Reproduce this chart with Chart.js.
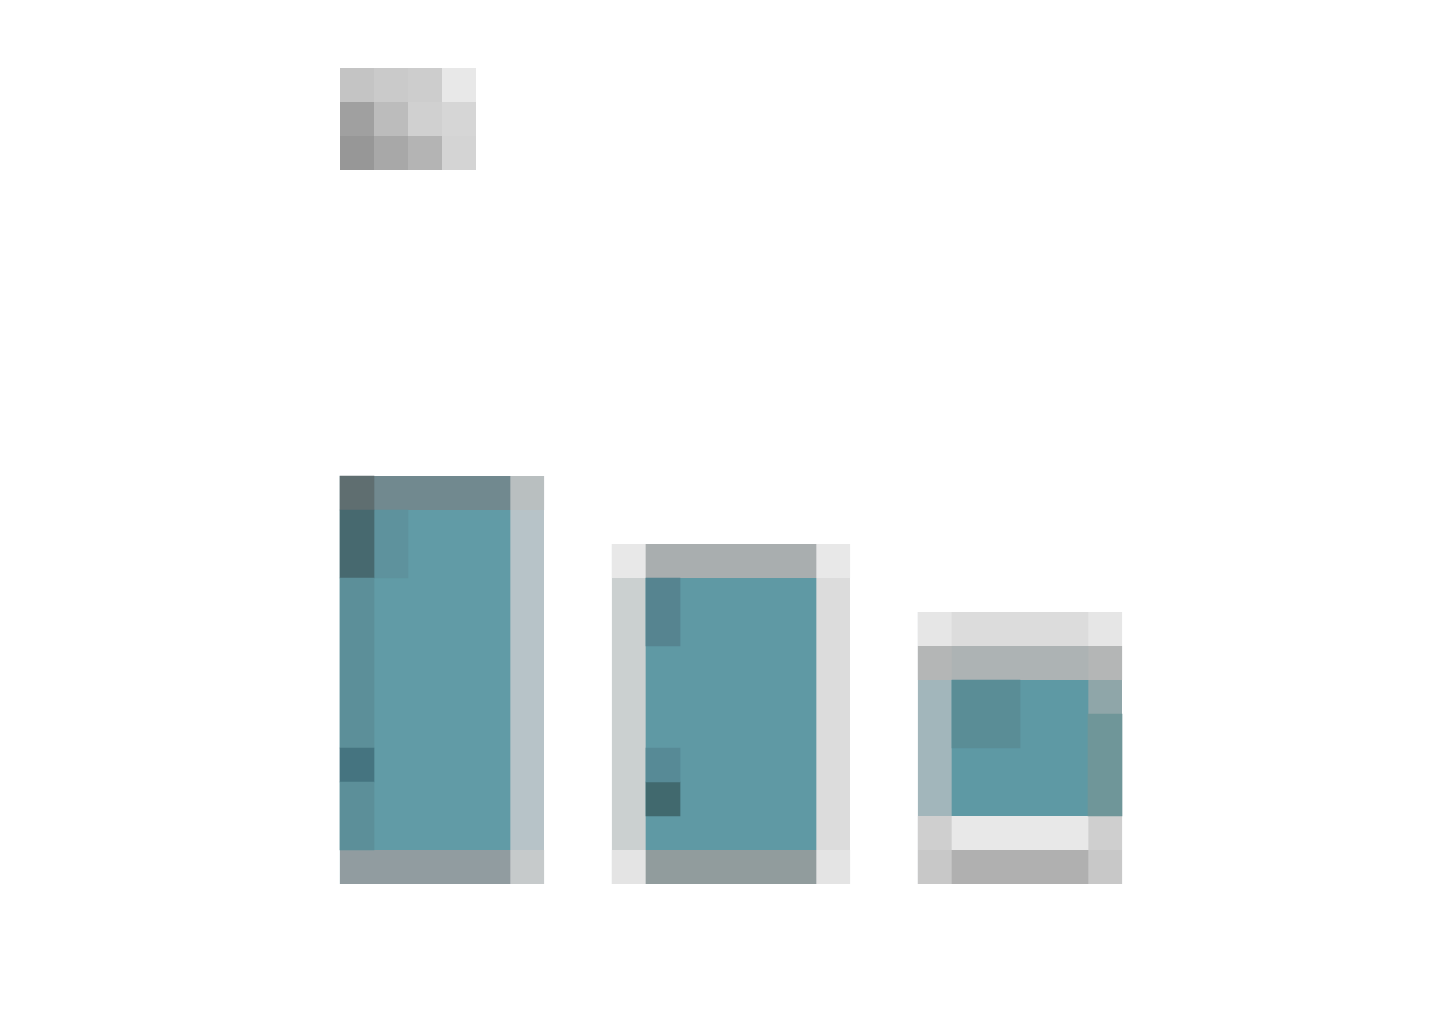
<!DOCTYPE html>
<html>
<head>
<meta charset="utf-8">
<title>Chart</title>
<script src="https://cdn.jsdelivr.net/npm/chart.js@4/dist/chart.umd.min.js"></script>
<style>
html, body { margin: 0; padding: 0; background: #fff; }
#wrap { position: relative; width: 1440px; height: 1018px; overflow: hidden; }
#myChart { position: absolute; left: 0; top: 0; }
#titleBlock { position: absolute; left: 340px; top: 68px; width: 136px; height: 102px;
    display: grid; grid-template-columns: repeat(4, 34px); grid-template-rows: repeat(3, 34px); }
</style>
</head>
<body>
<div id="wrap">
<div id="titleBlock"></div>
<canvas id="myChart" width="1440" height="1018"></canvas>
</div>
<script>
const categories = ["A", "B", "C"];
const barValues = [12, 10, 8];
const coreRanges = [[1, 11], [1, 9], [2, 6]];
const topCaps = [[11, 12], [9, 10], [6, 7]];
const upperCaps = [null, null, [7, 8]];
const bottomCaps = [[0, 1], [0, 1], [0, 1]];
const lowerGaps = [null, null, [1, 2]];

// darker patches inside the bars, on the cell axis
const patchColumns = [1.75, 1.75, 1.75, 1.75, 1.75, 2.75, 10.75, 10.75, 10.75, 20.25, 23.75];
const patchRanges = [[1, 3], [3, 4], [4, 9], [9, 11], [11, 12], [9, 11], [7, 9], [3, 4], [2, 3], [4, 6], [2, 5]];

const titleCellColors = [
    "#c4c4c4", "#cacaca", "#cdcdcd", "#e8e8e8",
    "#a0a0a0", "#bcbcbc", "#d0d0d0", "#d6d6d6",
    "#979797", "#a8a8a8", "#b4b4b4", "#d4d4d4"
];
const patchColors = ["#5c8f99", "#457480", "#5c8f99", "#47696f", "#5f6e70", "#5e929d", "#568490", "#578a96", "#41696e", "#5a8d96", "#6f9699"];

const barWidths = [204, 238, 204];
const coreWidths = [204, 170, 136];
const teal = ["#619ba6", "#5f99a4", "#5e99a4"];

titleCellColors.forEach((color) => {
    const cell = document.createElement("div");
    cell.style.background = color;
    document.getElementById("titleBlock").appendChild(cell);
});

// one dataset per bar so each one can have its own width
const layer = (values, fills, edges, borders, order, widths) => {
    return values.map((value, i) => {
        const data = [null, null, null];
        data[i] = value;
        return {
            data: data,
            order: order,
            grouped: false,
            barThickness: (widths || barWidths)[i],
            backgroundColor: fills[i],
            borderColor: edges[i],
            borderWidth: borders[i],
            borderSkipped: false
        };
    }).filter((set) => set.data.some((v) => v !== null));
};

const none = { left: 0, right: 0, top: 0, bottom: 0 };
const sides = { left: 34, right: 34, top: 0, bottom: 0 };
const rightSide = { left: 0, right: 34, top: 0, bottom: 0 };
const halfLeft = (w) => ({ left: w / 2, right: 0, top: 0, bottom: 0 });

const datasets = [
    // side bands: left half through the border, right half through the fill
    ...layer(barValues, ["#b7c3c8", "#dcdcdc", "#8fa6a9"], ["#5d919a", "#cbd0d0", "#a2b6bb"],
        barWidths.map(halfLeft), 5),
    ...layer(coreRanges, teal, ["transparent", "transparent", "transparent"],
        [rightSide, none, none], 4, coreWidths),
    ...layer(topCaps, ["#71898f", "#a9aeaf", "#adb3b4"], ["#b9bfc0", "#e8e8e8", "#b4b6b6"],
        [rightSide, sides, sides], 2),
    ...layer(upperCaps, [null, null, "#dcdcdc"], [null, null, "#e6e6e6"], [null, null, sides], 2),
    ...layer(lowerGaps, [null, null, "#e8e8e8"], [null, null, "#cfcfcf"], [null, null, sides], 2),
    ...layer(bottomCaps, ["#919ca0", "#919c9d", "#b0b0b0"], ["#c6cacb", "#e4e4e4", "#c8c8c8"],
        [rightSide, sides, sides], 2)
];

patchColumns.forEach((col, i) => {
    datasets.push({
        xAxisID: "cells",
        data: [{ x: col, y: patchRanges[i] }],
        order: 1,
        grouped: false,
        barThickness: i === 9 ? 68 : 34,
        backgroundColor: patchColors[i]
    });
});

const myChart = new Chart(document.getElementById("myChart").getContext("2d"), {
    type: "bar",
    data: { labels: categories, datasets: datasets },
    options: {
        responsive: false,
        animation: false,
        devicePixelRatio: 1,
        layout: { padding: { left: 297.5, right: 275.5, top: 68, bottom: 134 } },
        plugins: { legend: { display: false }, title: { display: false }, tooltip: { enabled: false } },
        scales: {
            x: { display: false, grid: { display: false } },
            cells: { type: "linear", display: false, offset: false, min: 0, max: 25.5, grid: { display: false } },
            y: { display: false, min: 0, max: 24, grid: { display: false } }
        }
    }
});
</script>
</body>
</html>
